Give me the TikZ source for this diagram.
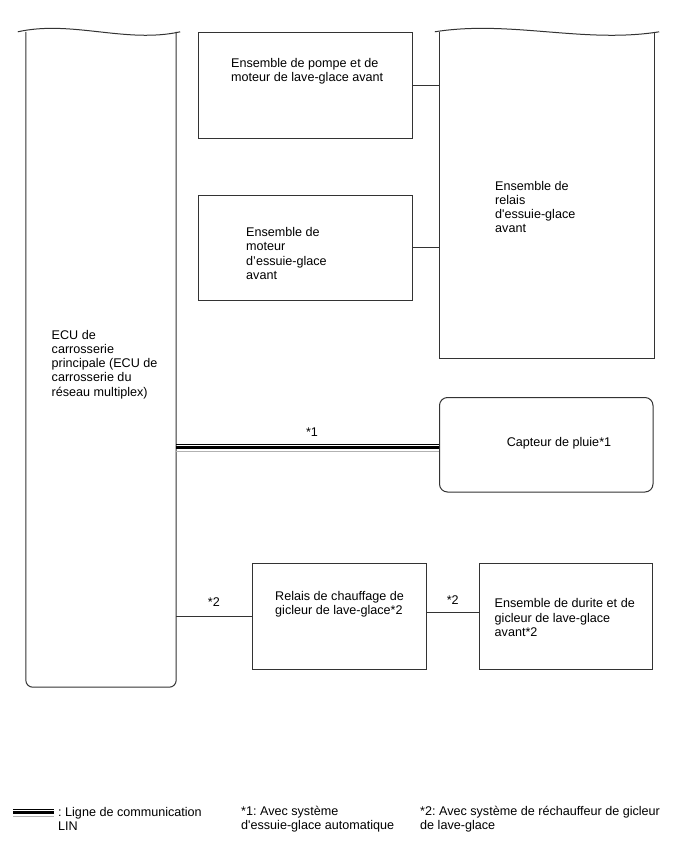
\documentclass[tikz,border=0pt]{standalone}
\usepackage{fontspec}
\setmainfont{Liberation Sans}
\usepackage{tikz}
\frenchspacing
\newcommand{\fs}{\fontsize{12.6}{14.2}\selectfont}
\tikzset{
	frame/.style={rectangle, inner sep=0pt},
	box/.style={draw=black!80, line width=1pt, rectangle, inner sep=0pt},
	txt/.style={align=left, anchor=west, inner sep=0pt, font=\fs},
	mark label/.style={font=\fs},
	wire/.style={draw=black!80, line width=1pt},
	lin/.style={line width=3pt,
		preaction={draw, line width=0.9pt, transform canvas={yshift=3.5pt}},
		postaction={draw, black!30, line width=0.9pt, transform canvas={yshift=-3.5pt}}}
}

\begin{document}
\begin{tikzpicture}[x=1pt, y=-1pt]
	\useasboundingbox (0,0) rectangle (688,852);
	\node[frame, minimum width=150, minimum height=655] (ecu) at (101,359.5) {};
	\node[frame, minimum width=215, minimum height=326] (relay) at (547,195) {};
	\node[box, minimum width=214, minimum height=106] (pump) at (305,85) {};
	\node[box, minimum width=214, minimum height=105] (motor) at (305,247.5) {};
	\node[box, rounded corners=8pt, minimum width=213.5, minimum height=94.5] (rain) at (546.25,444.75) {};
	\node[box, minimum width=174, minimum height=106] (heater) at (339,616) {};
	\node[box, minimum width=173, minimum height=106] (hose) at (566,616) {};
	\draw[wire, rounded corners=7pt] (ecu.north west) -- (ecu.south west) -- (ecu.south east) -- (ecu.north east);
	\draw[wire] ([xshift=-8pt]ecu.north west) .. controls +(54,-12) and +(-54,12) .. ([xshift=4pt]ecu.north east);
	\draw[wire] (relay.north west) -- (relay.south west) -- (relay.south east) -- (relay.north east);
	\draw[wire] ([xshift=-4.5pt]relay.north west) .. controls +(75,-12) and +(-75,12) .. ([xshift=4.5pt]relay.north east);
	\node[txt] (ecutxt) at (51.5,364.5) {ECU de\\carrosserie\\principale (ECU de\\carrosserie du\\réseau multiplex)};
	\node[txt] (pumptxt) at (231,71.5) {Ensemble de pompe et de\\moteur de lave-glace avant};
	\node[txt] (motortxt) at (246,253.5) {Ensemble de\\moteur\\d’essuie-glace\\avant};
	\node[txt] (relaytxt) at (495,207) {Ensemble de\\relais\\d\textquotesingle essuie-glace\\avant};
	\node[txt, anchor=center] (raintxt) at (559,443) {Capteur de pluie*1};
	\node[txt] (heatertxt) at (275,604) {Relais de chauffage de\\gicleur de lave-glace*2};
	\node[txt] (hosetxt) at (494.5,617.5) {Ensemble de durite et de\\gicleur de lave-glace\\avant*2};
	\draw[wire] (pump.east) -- (pump.east -| relay.west);
	\draw[wire] (motor.east) -- (motor.east -| relay.west);
	\draw[lin] ([yshift=-2.75pt]rain.west -| ecu.east) -- ([yshift=-2.75pt]rain.west);
	\node[mark label] (linmark) at (312,432) {*1};
	\draw[wire] (heater.west -| ecu.east) -- node[mark label, above=6pt] {*2} (heater.west);
	\draw[wire] ([yshift=3.7pt]heater.east) -- node[mark label, above=3.8pt] {*2} ([yshift=3.7pt]hose.west);
	\coordinate (lgA) at (13,812.5);
	\coordinate (lgB) at (54,812.5);
	\draw[lin] (lgA) -- (lgB);
	\node[txt] (lglin) at (58,819) {: Ligne de communication\\LIN};
	\node[txt] (lgone) at (241,819) {*1: Avec système\\d\textquotesingle essuie-glace automatique};
	\node[txt] (lgtwo) at (420,819) {*2: Avec système de réchauffeur de gicleur\\de lave-glace};
\end{tikzpicture}
\end{document}
